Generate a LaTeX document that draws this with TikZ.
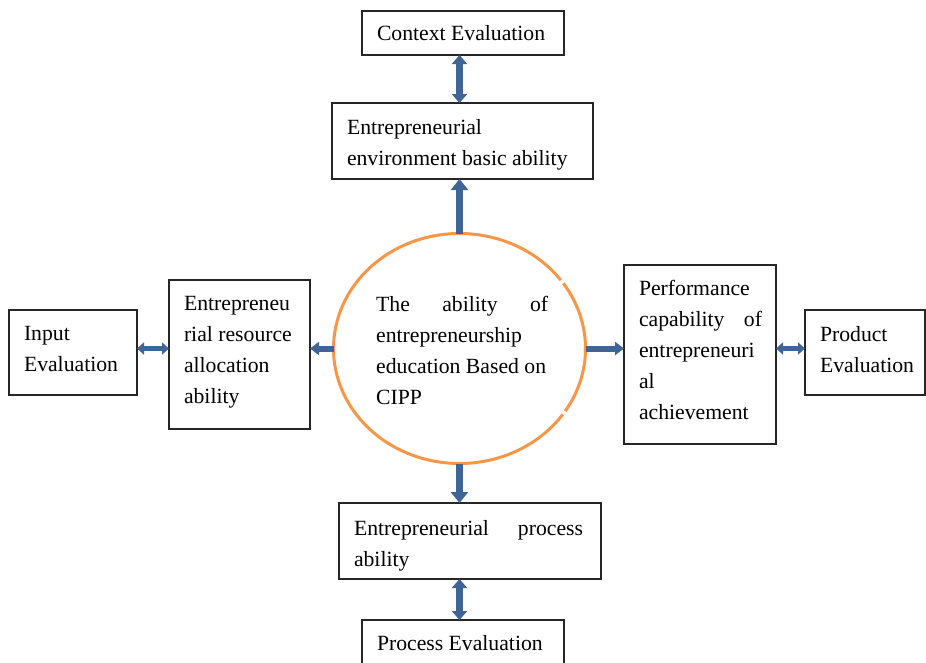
\documentclass[tikz,border=0pt]{standalone}
\usepackage{fontspec}
\setmainfont{Liberation Serif}
\usetikzlibrary{arrows.meta,shapes.geometric}
\definecolor{arrowblue}{HTML}{3F6596}
\definecolor{ringorange}{HTML}{F79646}
\definecolor{boxline}{HTML}{262626}
% a line stretched to a given width, words spread apart
\newcommand{\spreadline}[2]{\makebox[#1][s]{#2}}

\begin{document}
\begin{tikzpicture}[x=1pt,y=1pt,
  every node/.style={font=\fontsize{21.7pt}{31pt}\selectfont,
    execute at begin node={\spaceskip=.25em plus .15em minus .06em\xspaceskip=\spaceskip}},
  % framed text box: #1 width, #2 text width, #3 first baseline below top, #4 rest of height
  tbox/.style n args={4}{draw=boxline, line width=1.2pt, rectangle, anchor=north west,
    inner xsep=15pt, inner ysep=0pt, outer sep=0pt,
    minimum width=#1pt, text width=#2pt, text height=#3pt, text depth=#4pt},
  ring/.style={draw=ringorange, line width=3pt},
  flow/.style={draw=arrowblue, line width=7pt, -{Triangle[width=17pt,length=11pt]}},
  sideflow/.style={draw=arrowblue, line width=6pt, -{Triangle[width=13pt,length=9pt]}},
  link/.style={draw=arrowblue, line width=6.5pt, {Triangle[width=15pt,length=9pt]}-{Triangle[width=15pt,length=9pt]}},
  sidelink/.style={draw=arrowblue, line width=5.5pt, {Triangle[width=12pt,length=7pt]}-{Triangle[width=12pt,length=7pt]}}
]
\useasboundingbox (0,0) rectangle (926,-662);

% central ring
\node[ellipse, minimum width=252pt, minimum height=230pt, inner sep=0pt, outer sep=0pt] (core) at (459.5,-348.5) {};
\draw[ring] (core.center) ++(-33:126pt and 115pt) arc[start angle=-33, end angle=34.5, x radius=126pt, y radius=115pt];
\draw[ring] (core.center) ++(36.5:126pt and 115pt) arc[start angle=36.5, end angle=325, x radius=126pt, y radius=115pt];
\node[inner sep=0pt, text width=180pt, anchor=north west] (coretext) at (376,-296.2)
  {\spreadline{172pt}{The\hfill ability\hfill of}\\entrepreneurship\\education Based on\\CIPP};

% framed boxes
\node[tbox={202}{172}{29.5}{14.5}] (ctx) at (362,-11) {Context Evaluation};
\node[tbox={261}{231}{31.3}{44.7}] (env) at (332,-103) {Entrepreneurial\\environment basic ability};
\node[tbox={128}{98}{30.7}{54.3}] (inp) at (9,-310) {Input\\Evaluation};
\node[tbox={141}{111}{30.7}{118.3}] (res) at (169,-280) {Entrepreneu\\rial resource\\allocation\\ability};
\node[tbox={152}{122}{30.7}{148.3}] (perf) at (624,-265)
  {Performance\\\spreadline{123pt}{capability\hfill of}\\entrepreneuri\\al\\achievement};
\node[tbox={120}{90}{31}{54}] (prod) at (805,-310) {Product\\Evaluation};
\node[tbox={262}{232}{32}{44}] (proc) at (339,-503) {\spreadline{229pt}{Entrepreneurial\hfill process}\\ability};
\node[tbox={202}{172}{30}{22}] (peval) at (362,-620) {Process Evaluation};

% connectors
\draw[flow] (core.north) -- (core.north |- env.south);
\draw[link] (core.north |- ctx.south) -- (core.north |- env.north);
\draw[sideflow] (core.west) -- (core.west -| res.east);
\draw[sidelink] (inp.east |- core.west) -- (res.west |- core.west);
\draw[sideflow] (core.east) -- (core.east -| perf.west);
\draw[sidelink] (perf.east |- core.east) -- (prod.west |- core.east);
\draw[flow] (core.south) -- (core.south |- proc.north);
\draw[link] (core.south |- proc.south) -- (core.south |- peval.north);
\end{tikzpicture}
\end{document}
